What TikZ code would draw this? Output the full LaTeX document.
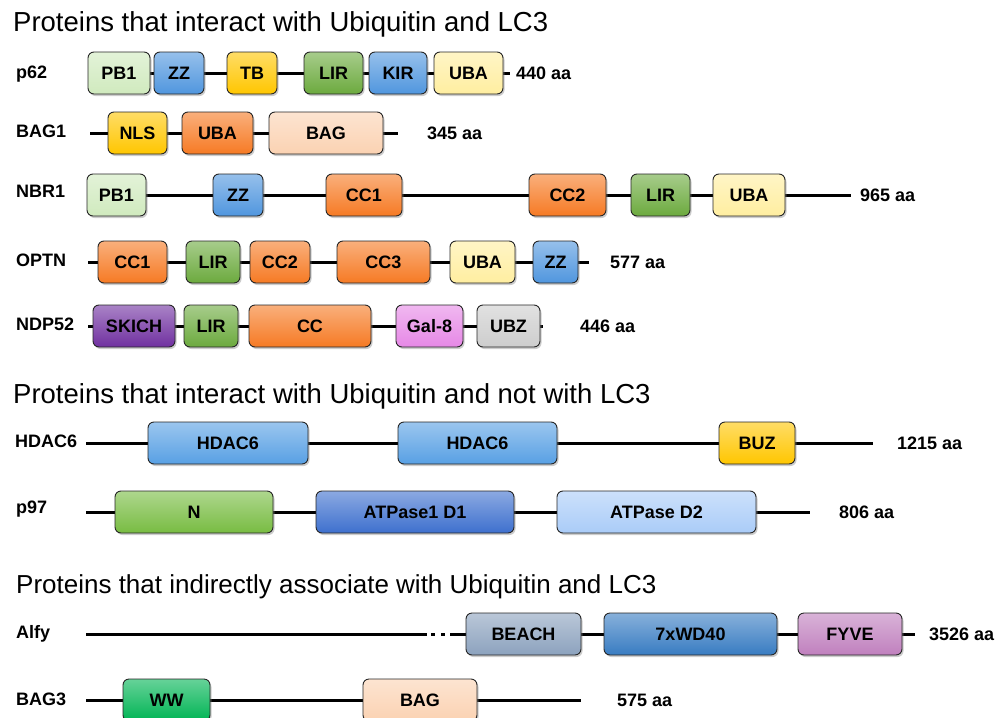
\documentclass[tikz,border=0pt]{standalone}
\usepackage{fontspec}
\setmainfont{Liberation Sans}
\usetikzlibrary{positioning,shadows}

\definecolor{pbgreen}{RGB}{208,234,190}
\definecolor{zzblue}{RGB}{80,150,222}
\definecolor{gold}{RGB}{255,198,0}
\definecolor{lirgreen}{RGB}{108,170,62}
\definecolor{ubayellow}{RGB}{255,238,160}
\definecolor{ccorange}{RGB}{246,122,36}
\definecolor{bagpeach}{RGB}{251,210,178}
\definecolor{skpurple}{RGB}{112,48,160}
\definecolor{galpink}{RGB}{230,136,230}
\definecolor{ubzgray}{RGB}{205,205,205}
\definecolor{hdblue}{RGB}{88,160,228}
\definecolor{ngreen}{RGB}{120,188,66}
\definecolor{dAblue}{RGB}{62,112,206}
\definecolor{dBblue}{RGB}{170,204,248}
\definecolor{beachgray}{RGB}{140,162,190}
\definecolor{wdblue}{RGB}{56,124,194}
\definecolor{fyvemauve}{RGB}{192,128,190}
\definecolor{wwgreen}{RGB}{0,180,84}

\tikzset{
  dom/.style={draw=black!85, line width=0.9pt, rounded corners=6pt,
    top color=#1!60!white, bottom color=#1, minimum height=42pt,
    text height=13pt, text depth=0pt, inner sep=0pt,
    font=\bfseries\fontsize{18}{18}\selectfont,
    drop shadow={shadow xshift=1.5pt, shadow yshift=-2pt, opacity=.4}},
  bb/.style={line width=3pt, black},
  lbl/.style={anchor=west, inner sep=0pt, text height=13pt, text depth=0pt,
    font=\bfseries\fontsize{18}{18}\selectfont},
  len/.style={lbl},
  title/.style={anchor=base west, inner sep=0pt, font=\fontsize{27.5}{30}\selectfont}
}

\begin{document}
\begin{tikzpicture}[x=1pt,y=-1pt]
\useasboundingbox (0,0) rectangle (1005,718);

% titles
\node[title] (t1) at (13,31) {Proteins that interact with Ubiquitin and LC3};
\node[title] (t2) at (13,403) {Proteins that interact with Ubiquitin and not with LC3};
\node[title, font=\fontsize{26}{30}\selectfont] (t3) at (16,593) {Proteins that indirectly associate with Ubiquitin and LC3};

% p62
\coordinate (p62s) at (88,73);
\coordinate (p62e) at (510,73);
\draw[bb] (p62s) -- (p62e);
\node[lbl] (p62n) at (16,72) {p62};
\node[dom=pbgreen, minimum width=62] (p62pb) at (119,73) {PB1};
\node[dom=zzblue, minimum width=50] (p62zz) at (179,73) {ZZ};
\node[dom=gold, minimum width=50] (p62tb) at (252,73) {TB};
\node[dom=lirgreen, minimum width=59] (p62lir) at (333.5,73) {LIR};
\node[dom=zzblue, minimum width=58] (p62kir) at (398,73) {KIR};
\node[dom=ubayellow, minimum width=69] (p62uba) at (468.5,73) {UBA};
\node[len, right=6pt of p62e] (p62len) {440 aa};

% BAG1
\coordinate (bagAs) at (90,133);
\coordinate (bagAe) at (398,133);
\draw[bb] (bagAs) -- (bagAe);
\node[lbl] (bagAn) at (16,131) {BAG1};
\node[dom=gold, minimum width=59] (bagAnls) at (137.5,133) {NLS};
\node[dom=ccorange, minimum width=71] (bagAuba) at (217.5,133) {UBA};
\node[dom=bagpeach, minimum width=114] (bagAbag) at (326,133) {BAG};
\node[len, right=29pt of bagAe] (bagAlen) {345 aa};

% NBR1
\coordinate (nbrs) at (87,195);
\coordinate (nbre) at (851,195);
\draw[bb] (nbrs) -- (nbre);
\node[lbl] (nbrn) at (16,191) {NBR1};
\node[dom=pbgreen, minimum width=59] (nbrpb) at (116.5,195) {PB1};
\node[dom=zzblue, minimum width=50] (nbrzz) at (238,195) {ZZ};
\node[dom=ccorange, minimum width=76] (nbrccA) at (364,195) {CC1};
\node[dom=ccorange, minimum width=77] (nbrccB) at (567.5,195) {CC2};
\node[dom=lirgreen, minimum width=59] (nbrlir) at (660.5,195) {LIR};
\node[dom=ubayellow, minimum width=72] (nbruba) at (749,195) {UBA};
\node[len, right=9pt of nbre] (nbrlen) {965 aa};

% OPTN
\coordinate (opts) at (88,262);
\coordinate (opte) at (589,262);
\draw[bb] (opts) -- (opte);
\node[lbl] (optn) at (16,260) {OPTN};
\node[dom=ccorange, minimum width=69] (optccA) at (132.5,262) {CC1};
\node[dom=lirgreen, minimum width=54] (optlir) at (213,262) {LIR};
\node[dom=ccorange, minimum width=60] (optccB) at (280,262) {CC2};
\node[dom=ccorange, minimum width=93] (optccC) at (383.5,262) {CC3};
\node[dom=ubayellow, minimum width=65] (optuba) at (482.5,262) {UBA};
\node[dom=zzblue, minimum width=45] (optzz) at (555.5,262) {ZZ};
\node[len, right=21pt of opte] (optlen) {577 aa};

% NDP52
\coordinate (ndps) at (88,326);
\coordinate (ndpe) at (543,326);
\draw[bb] (ndps) -- (ndpe);
\node[lbl] (ndpn) at (16,324) {NDP52};
\node[dom=skpurple, minimum width=82] (ndpsk) at (134,326) {SKICH};
\node[dom=lirgreen, minimum width=54] (ndplir) at (211,326) {LIR};
\node[dom=ccorange, minimum width=122] (ndpcc) at (310,326) {CC};
\node[dom=galpink, minimum width=67] (ndpgal) at (429.5,326) {Gal-8};
\node[dom=ubzgray, minimum width=63] (ndpubz) at (508.5,326) {UBZ};
\node[len, right=37pt of ndpe] (ndplen) {446 aa};

% HDAC6
\coordinate (hdacs) at (86,443);
\coordinate (hdace) at (873,443);
\draw[bb] (hdacs) -- (hdace);
\node[lbl] (hdacn) at (15,441) {HDAC6};
\node[dom=hdblue, minimum width=160] (hdacA) at (228,443) {HDAC6};
\node[dom=hdblue, minimum width=159] (hdacB) at (477.5,443) {HDAC6};
\node[dom=gold, minimum width=76] (hdacbuz) at (757,443) {BUZ};
\node[len, right=24pt of hdace] (hdaclen) {1215 aa};

% p97
\coordinate (p97s) at (86,512);
\coordinate (p97e) at (810,512);
\draw[bb] (p97s) -- (p97e);
\node[lbl] (p97n) at (16,507) {p97};
\node[dom=ngreen, minimum width=158] (p97N) at (194,512) {N};
\node[dom=dAblue, minimum width=198] (p97dA) at (415,512) {ATPase1 D1};
\node[dom=dBblue, minimum width=199] (p97dB) at (656.5,512) {ATPase D2};
\node[len, right=29pt of p97e] (p97len) {806 aa};

% Alfy
\coordinate (alfys) at (86,634);
\coordinate (alfya) at (427,634);
\coordinate (alfyb) at (450,634);
\coordinate (alfye) at (915,634);
\draw[bb] (alfys) -- (alfya);
\draw[bb, dash pattern=on 3.5pt off 6.5pt] ([xshift=4pt]alfya) -- ([xshift=-3pt]alfyb);
\draw[bb] (alfyb) -- (alfye);
\node[lbl] (alfyn) at (16,632) {Alfy};
\node[dom=beachgray, minimum width=115] (alfybeach) at (523.5,634) {BEACH};
\node[dom=wdblue, minimum width=173] (alfywd) at (690.5,634) {7xWD40};
\node[dom=fyvemauve, minimum width=104] (alfyfyve) at (850,634) {FYVE};
\node[len, right=14pt of alfye] (alfylen) {3526 aa};

% BAG3
\coordinate (bagCs) at (86,700);
\coordinate (bagCe) at (581,700);
\draw[bb] (bagCs) -- (bagCe);
\node[lbl] (bagCn) at (16,699) {BAG3};
\node[dom=wwgreen, minimum width=87] (bagCww) at (166.5,700) {WW};
\node[dom=bagpeach, minimum width=114] (bagCbag) at (420,700) {BAG};
\node[len, right=36pt of bagCe] (bagClen) {575 aa};
\end{tikzpicture}
\end{document}
